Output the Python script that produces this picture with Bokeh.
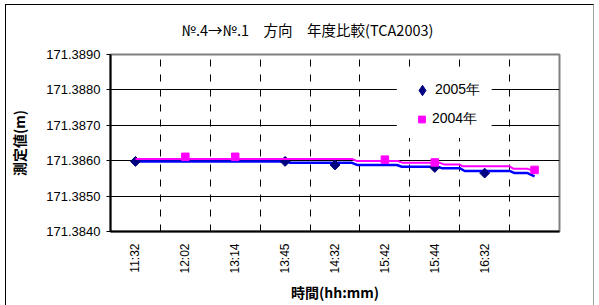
from bokeh.plotting import figure
from bokeh.models import (Range1d, FixedTicker, PrintfTickFormatter, Title,
                          Legend, LegendItem, BoxAnnotation)
from bokeh.embed import file_html
from bokeh.resources import INLINE
import math

# ---- data ----
time_labels = ["11:32", "12:02", "13:14", "13:45", "14:32", "15:42", "15:44", "16:32"]
n_slots = 9
y_ticks = [171.3840, 171.3850, 171.3860, 171.3870, 171.3880, 171.3890]

# continuous measurement lines (x in category slots)
line2005_x = [0.5, 3.55, 3.6, 4.84, 4.94, 5.74, 5.84, 6.56, 6.64, 7.0, 7.1, 8.0, 8.1, 8.36, 8.5]
line2005_y = [171.38598, 171.38598, 171.38594, 171.38594, 171.38588, 171.38588, 171.38583,
              171.38583, 171.38579, 171.38579, 171.38571, 171.38571, 171.38565, 171.38565,
              171.38556]
line2004_x = [0.5, 4.84, 4.94, 5.76, 5.86, 6.6, 6.7, 7.0, 7.06, 8.0, 8.08, 8.36, 8.5]
line2004_y = [171.38605, 171.38605, 171.38599, 171.38599, 171.38594, 171.38594, 171.38589,
              171.38589, 171.38584, 171.38584, 171.38577, 171.38577, 171.38571]

# marker points
mark2005_x = [0.5, 3.5, 4.5, 6.5, 7.5]
mark2005_y = [171.38598, 171.38598, 171.38588, 171.38581, 171.38565]
mark2004_x = [1.5, 2.5, 5.5, 6.5, 8.5]
mark2004_y = [171.38611, 171.38611, 171.38603, 171.38595, 171.38574]

title_text = "№.4→№.1\u3000方向\u3000年度比較(TCA2003)"

p = figure(width=589, height=301, output_backend="svg", toolbar_location=None,
           x_range=Range1d(0, n_slots), y_range=Range1d(y_ticks[0], y_ticks[-1]),
           min_border_left=100, min_border_right=36, min_border_top=49,
           min_border_bottom=75)
p.styles = {"margin-left": "5px", "margin-top": "4px",
            "border-top": "1px solid black", "border-left": "1px solid black",
            "border-right": "1px solid #a0a0a0"}
p.background_fill_color = "white"
p.border_fill_color = "white"
p.outline_line_color = "#808080"
p.outline_line_width = 2

# title
p.title = Title(text=title_text, align="left", offset=71, vertical_align="top",
                text_font="Noto Sans CJK JP", text_font_size="14.5px",
                text_font_style="normal", text_color="black", standoff=26)

# axes
p.yaxis.ticker = FixedTicker(ticks=y_ticks)
p.yaxis.formatter = PrintfTickFormatter(format="%.4f")
p.yaxis.major_tick_out = 4
p.yaxis.major_tick_in = 0
p.yaxis.minor_tick_out = 0
p.yaxis.minor_tick_in = 0
p.yaxis.major_label_standoff = 6
p.yaxis.major_label_text_font = "Liberation Sans"
p.yaxis.major_label_text_font_size = "13px"
p.yaxis.major_label_text_color = "black"
p.yaxis.axis_line_color = "black"
p.yaxis.axis_line_width = 2
p.yaxis.major_tick_line_color = "black"
p.yaxis.axis_label = "測定値(m)"
p.yaxis.axis_label_text_font = "Noto Sans CJK JP"
p.yaxis.axis_label_text_font_size = "14px"
p.yaxis.axis_label_text_font_style = "bold"
p.yaxis.axis_label_text_color = "black"
p.yaxis.axis_label_standoff = 14

x_tick_pos = [i + 0.5 for i in range(len(time_labels))]
p.xaxis.ticker = FixedTicker(ticks=x_tick_pos)
p.xaxis.major_label_overrides = {x: t for x, t in zip(x_tick_pos, time_labels)}
p.xaxis.major_label_orientation = math.pi / 2
p.xaxis.major_tick_out = 0
p.xaxis.major_tick_in = 0
p.xaxis.minor_tick_out = 0
p.xaxis.minor_tick_in = 0
p.xaxis.major_label_standoff = 12
p.xaxis.major_label_text_font = "Liberation Sans"
p.xaxis.major_label_text_font_size = "12px"
p.xaxis.major_label_text_color = "black"
p.xaxis.axis_line_color = "black"
p.xaxis.axis_line_width = 2
p.xaxis.axis_label = "時間(hh:mm)"
p.xaxis.axis_label_text_font = "Noto Sans CJK JP"
p.xaxis.axis_label_text_font_size = "14px"
p.xaxis.axis_label_text_font_style = "bold"
p.xaxis.axis_label_text_color = "black"
p.xaxis.axis_label_standoff = 5

# grids
p.ygrid.ticker = FixedTicker(ticks=y_ticks)
p.ygrid.grid_line_color = "black"
p.ygrid.grid_line_width = 1
p.ygrid.grid_line_alpha = 1
p.xgrid.ticker = FixedTicker(ticks=list(range(1, n_slots)))
p.xgrid.grid_line_color = "black"
p.xgrid.grid_line_width = 1
p.xgrid.grid_line_dash = "7 8"
p.xgrid.grid_line_alpha = 1

# lines and markers
p.line(line2005_x, line2005_y, line_color="#0000FF", line_width=2.5)
r05 = p.scatter(mark2005_x, mark2005_y, marker="square", angle=math.pi / 4, size=7,
                fill_color="#000080", line_color="#000080")
p.line(line2004_x, line2004_y, line_color="#FF00FF", line_width=2)
r04 = p.scatter(mark2004_x, mark2004_y, marker="square", size=7.5,
                fill_color="#FF00FF", line_color="#FF00FF")
# legend-only glyph for the diamond symbol
r05_leg = p.scatter(mark2005_x, mark2005_y, marker="diamond", size=7,
                    fill_color="#000080", line_color="#000080", visible=False)

# white legend background covering the grid
p.add_layout(BoxAnnotation(left=5.74, right=7.64, top=171.38849, bottom=171.38664,
                           fill_color="white", fill_alpha=1, line_alpha=0))

leg_common = dict(orientation="vertical", background_fill_alpha=0,
                  border_line_color=None, padding=0, spacing=0, margin=0,
                  label_text_font="Liberation Sans", label_text_font_size="14px",
                  label_text_color="black")
legend1 = Legend(items=[LegendItem(label="2005年", renderers=[r05_leg])],
                 location=(299, 128), glyph_width=26, glyph_height=26,
                 label_standoff=0, label_height=20, **leg_common)
legend2 = Legend(items=[LegendItem(label="2004年", renderers=[r04])],
                 location=(303, 102), glyph_width=17, glyph_height=20,
                 label_standoff=2, label_height=20, **leg_common)
p.add_layout(legend1, "center")
p.add_layout(legend2, "center")

open("out.html", "w").write(file_html(p, INLINE))
